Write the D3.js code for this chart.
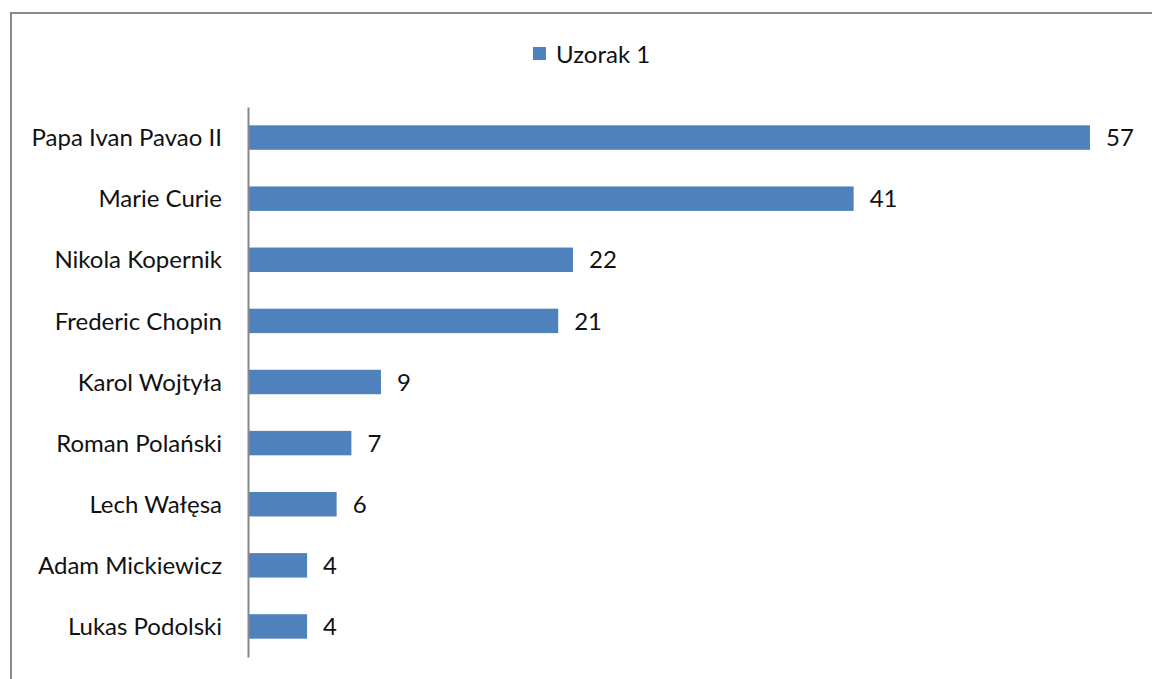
<!DOCTYPE html>
<html><head><meta charset="utf-8">
<script src="https://cdn.jsdelivr.net/npm/d3@7"></script>
<style>body{margin:0;background:#fff}svg{display:block}text{font-family:Lato,"Open Sans",sans-serif;fill:#111}</style>
</head><body>
<script>
const categories = ["Papa Ivan Pavao II","Marie Curie","Nikola Kopernik","Frederic Chopin","Karol Wojtyła","Roman Polański","Lech Wałęsa","Adam Mickiewicz","Lukas Podolski"];
const values = [57,41,22,21,9,7,6,4,4];
const seriesName = "Uzorak 1";

const W = 1152, H = 679, FS = 24;
const svg = d3.select("body").append("svg").attr("width", W).attr("height", H);

svg.append("rect").attr("x", 11).attr("y", 13).attr("width", 1160).attr("height", 700)
  .attr("fill", "#fff").attr("stroke", "#888").attr("stroke-width", 2);

const x = d3.scaleLinear().domain([0, 60]).range([248, 248 + 886.3]);
const y = d3.scaleBand().domain(categories).range([107, 657]).paddingInner(0.6).paddingOuter(0.3);

svg.selectAll("rect.bar").data(values).join("rect").attr("class","bar")
  .attr("x", x(0)).attr("y", (d,i)=>y(categories[i]))
  .attr("width", d=>x(d)-x(0)).attr("height", y.bandwidth())
  .attr("fill", "#4F81BD");

svg.selectAll("text.val").data(values).join("text").attr("class","val")
  .attr("x", d=>x(d)+16).attr("y", (d,i)=>y(categories[i])+y.bandwidth()/2)
  .attr("dy","0.36em").attr("font-size", FS).text(d=>d);

const yAxis = d3.axisLeft(y).tickSize(0).tickPadding(26);
const ga = svg.append("g").attr("transform", `translate(${x(0)},0)`).call(yAxis);
ga.select(".domain").attr("stroke", "#888").attr("stroke-width", 2);
ga.selectAll("text").attr("font-size", FS).attr("dy", "0.36em").attr("font-family", "Lato, 'Open Sans', sans-serif").attr("fill", "#111");

const lg = svg.append("g");
lg.append("rect").attr("x", 533).attr("y", 47).attr("width", 13).attr("height", 13).attr("fill", "#4F81BD");
lg.append("text").attr("x", 556).attr("y", 54).attr("dy", "0.36em").attr("font-size", FS).text(seriesName);
</script>
</body></html>
